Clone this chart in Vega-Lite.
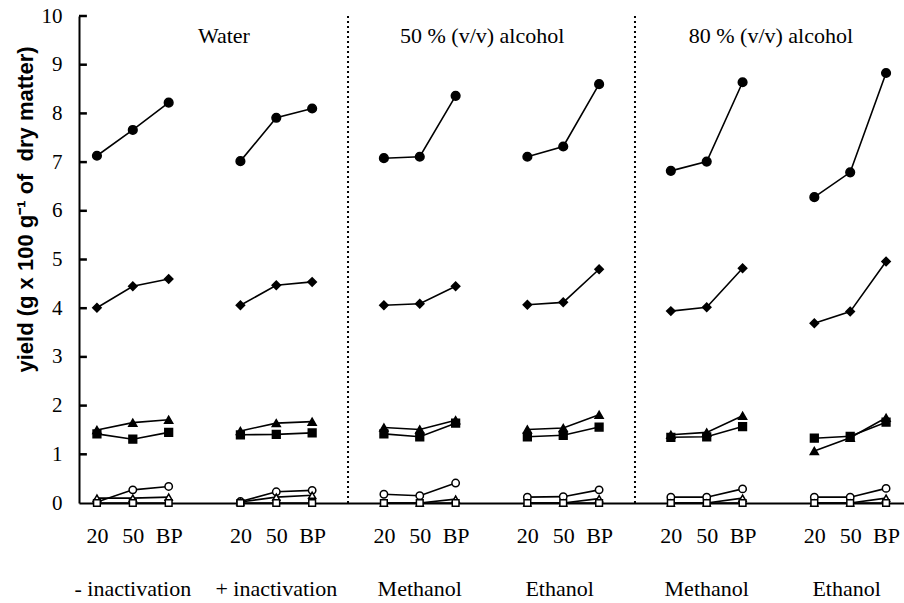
{
  "$schema": "https://vega.github.io/schema/vega-lite/v6.json",
  "width": 825,
  "height": 487,
  "autosize": {"type": "none"},
  "padding": {"left": 79, "top": 16, "right": 0, "bottom": 100},
  "background": "white",
  "config": {"view": {"stroke": null}},
  "datasets": {
    "yields": [
      {"s":"FC","g":1,"x":0,"v":7.13},{"s":"FC","g":1,"x":1,"v":7.66},{"s":"FC","g":1,"x":2,"v":8.22},
      {"s":"FC","g":2,"x":4,"v":7.02},{"s":"FC","g":2,"x":5,"v":7.91},{"s":"FC","g":2,"x":6,"v":8.1},
      {"s":"FC","g":3,"x":8,"v":7.08},{"s":"FC","g":3,"x":9,"v":7.11},{"s":"FC","g":3,"x":10,"v":8.36},
      {"s":"FC","g":4,"x":12,"v":7.11},{"s":"FC","g":4,"x":13,"v":7.32},{"s":"FC","g":4,"x":14,"v":8.6},
      {"s":"FC","g":5,"x":16,"v":6.82},{"s":"FC","g":5,"x":17,"v":7.01},{"s":"FC","g":5,"x":18,"v":8.64},
      {"s":"FC","g":6,"x":20,"v":6.28},{"s":"FC","g":6,"x":21,"v":6.79},{"s":"FC","g":6,"x":22,"v":8.83},

      {"s":"FD","g":1,"x":0,"v":4.01},{"s":"FD","g":1,"x":1,"v":4.45},{"s":"FD","g":1,"x":2,"v":4.6},
      {"s":"FD","g":2,"x":4,"v":4.06},{"s":"FD","g":2,"x":5,"v":4.47},{"s":"FD","g":2,"x":6,"v":4.54},
      {"s":"FD","g":3,"x":8,"v":4.06},{"s":"FD","g":3,"x":9,"v":4.09},{"s":"FD","g":3,"x":10,"v":4.45},
      {"s":"FD","g":4,"x":12,"v":4.07},{"s":"FD","g":4,"x":13,"v":4.12},{"s":"FD","g":4,"x":14,"v":4.8},
      {"s":"FD","g":5,"x":16,"v":3.94},{"s":"FD","g":5,"x":17,"v":4.02},{"s":"FD","g":5,"x":18,"v":4.82},
      {"s":"FD","g":6,"x":20,"v":3.69},{"s":"FD","g":6,"x":21,"v":3.93},{"s":"FD","g":6,"x":22,"v":4.96},

      {"s":"FT","g":1,"x":0,"v":1.5},{"s":"FT","g":1,"x":1,"v":1.65},{"s":"FT","g":1,"x":2,"v":1.71},
      {"s":"FT","g":2,"x":4,"v":1.48},{"s":"FT","g":2,"x":5,"v":1.64},{"s":"FT","g":2,"x":6,"v":1.67},
      {"s":"FT","g":3,"x":8,"v":1.55},{"s":"FT","g":3,"x":9,"v":1.51},{"s":"FT","g":3,"x":10,"v":1.7},
      {"s":"FT","g":4,"x":12,"v":1.51},{"s":"FT","g":4,"x":13,"v":1.54},{"s":"FT","g":4,"x":14,"v":1.81},
      {"s":"FT","g":5,"x":16,"v":1.4},{"s":"FT","g":5,"x":17,"v":1.45},{"s":"FT","g":5,"x":18,"v":1.79},
      {"s":"FT","g":6,"x":20,"v":1.07},{"s":"FT","g":6,"x":21,"v":1.34},{"s":"FT","g":6,"x":22,"v":1.75},

      {"s":"FS","g":1,"x":0,"v":1.42},{"s":"FS","g":1,"x":1,"v":1.31},{"s":"FS","g":1,"x":2,"v":1.45},
      {"s":"FS","g":2,"x":4,"v":1.4},{"s":"FS","g":2,"x":5,"v":1.41},{"s":"FS","g":2,"x":6,"v":1.44},
      {"s":"FS","g":3,"x":8,"v":1.42},{"s":"FS","g":3,"x":9,"v":1.36},{"s":"FS","g":3,"x":10,"v":1.64},
      {"s":"FS","g":4,"x":12,"v":1.36},{"s":"FS","g":4,"x":13,"v":1.39},{"s":"FS","g":4,"x":14,"v":1.56},
      {"s":"FS","g":5,"x":16,"v":1.35},{"s":"FS","g":5,"x":17,"v":1.36},{"s":"FS","g":5,"x":18,"v":1.57},
      {"s":"FS","g":6,"x":20,"v":1.33},{"s":"FS","g":6,"x":21,"v":1.37},{"s":"FS","g":6,"x":22,"v":1.66},

      {"s":"OC","g":1,"x":0,"v":0.02},{"s":"OC","g":1,"x":1,"v":0.27},{"s":"OC","g":1,"x":2,"v":0.34},
      {"s":"OC","g":2,"x":4,"v":0.03},{"s":"OC","g":2,"x":5,"v":0.23},{"s":"OC","g":2,"x":6,"v":0.26},
      {"s":"OC","g":3,"x":8,"v":0.18},{"s":"OC","g":3,"x":9,"v":0.15},{"s":"OC","g":3,"x":10,"v":0.41},
      {"s":"OC","g":4,"x":12,"v":0.12},{"s":"OC","g":4,"x":13,"v":0.13},{"s":"OC","g":4,"x":14,"v":0.27},
      {"s":"OC","g":5,"x":16,"v":0.12},{"s":"OC","g":5,"x":17,"v":0.12},{"s":"OC","g":5,"x":18,"v":0.29},
      {"s":"OC","g":6,"x":20,"v":0.12},{"s":"OC","g":6,"x":21,"v":0.12},{"s":"OC","g":6,"x":22,"v":0.3},

      {"s":"OT","g":1,"x":0,"v":0.1},{"s":"OT","g":1,"x":1,"v":0.1},{"s":"OT","g":1,"x":2,"v":0.12},
      {"s":"OT","g":2,"x":4,"v":0.02},{"s":"OT","g":2,"x":5,"v":0.12},{"s":"OT","g":2,"x":6,"v":0.16},
      {"s":"OT","g":3,"x":8,"v":0.0},{"s":"OT","g":3,"x":9,"v":0.0},{"s":"OT","g":3,"x":10,"v":0.08},
      {"s":"OT","g":4,"x":12,"v":0.0},{"s":"OT","g":4,"x":13,"v":0.0},{"s":"OT","g":4,"x":14,"v":0.09},
      {"s":"OT","g":5,"x":16,"v":0.0},{"s":"OT","g":5,"x":17,"v":0.0},{"s":"OT","g":5,"x":18,"v":0.1},
      {"s":"OT","g":6,"x":20,"v":0.0},{"s":"OT","g":6,"x":21,"v":0.0},{"s":"OT","g":6,"x":22,"v":0.1},

      {"s":"OS","g":1,"x":0,"v":0.0},{"s":"OS","g":1,"x":1,"v":0.0},{"s":"OS","g":1,"x":2,"v":0.0},
      {"s":"OS","g":2,"x":4,"v":0.0},{"s":"OS","g":2,"x":5,"v":0.0},{"s":"OS","g":2,"x":6,"v":0.0},
      {"s":"OS","g":3,"x":8,"v":0.0},{"s":"OS","g":3,"x":9,"v":0.0},{"s":"OS","g":3,"x":10,"v":0.0},
      {"s":"OS","g":4,"x":12,"v":0.0},{"s":"OS","g":4,"x":13,"v":0.0},{"s":"OS","g":4,"x":14,"v":0.0},
      {"s":"OS","g":5,"x":16,"v":0.0},{"s":"OS","g":5,"x":17,"v":0.0},{"s":"OS","g":5,"x":18,"v":0.0},
      {"s":"OS","g":6,"x":20,"v":0.0},{"s":"OS","g":6,"x":21,"v":0.0},{"s":"OS","g":6,"x":22,"v":0.0}
    ],
    "dividers": [{"x": 7}, {"x": 15}],
    "yticks": [{"v": 1}, {"v": 2}, {"v": 3}, {"v": 4}, {"v": 5}, {"v": 6}, {"v": 7}, {"v": 8}, {"v": 9}, {"v": 10}],
    "bottomlabels": [
      {"x": 1, "label": "- inactivation"},
      {"x": 5, "label": "+ inactivation"},
      {"x": 9, "label": "Methanol"},
      {"x": 12.9, "label": "Ethanol"},
      {"x": 17, "label": "Methanol"},
      {"x": 20.9, "label": "Ethanol"}
    ],
    "toplabels": [
      {"x": 3.54, "label": "Water"},
      {"x": 10.74, "label": "50 % (v/v) alcohol"},
      {"x": 18.79, "label": "80 % (v/v) alcohol"}
    ]
  },
  "layer": [
    {
      "data": {"name": "yields"},
      "mark": {"type": "line", "stroke": "black", "strokeWidth": 1.6},
      "encoding": {
        "x": {
          "field": "x",
          "type": "quantitative",
          "scale": {"domain": [-0.5, 22.5], "nice": false, "zero": false},
          "axis": {
            "title": null,
            "grid": false,
            "ticks": false,
            "values": [0, 1, 2, 4, 5, 6, 8, 9, 10, 12, 13, 14, 16, 17, 18, 20, 21, 22],
            "labelExpr": "datum.value % 4 == 0 ? '20' : (datum.value % 4 == 1 ? '50' : 'BP')",
            "labelFont": "Liberation Serif",
            "labelFontSize": 22,
            "labelColor": "black",
            "labelPadding": 22,
            "labelFlush": false,
            "labelOverlap": false,
            "domainColor": "black",
            "domainWidth": 2
          }
        },
        "y": {
          "field": "v",
          "type": "quantitative",
          "scale": {"domain": [0, 10], "nice": false},
          "axis": {
            "title": "yield (g x 100 g⁻¹ of\u00a0 dry matter)",
            "titleFont": "Liberation Sans",
            "titleFontWeight": "bold",
            "titleFontSize": 22,
            "titleColor": "black",
            "titleAngle": -90,
            "titleAlign": "center",
            "titleBaseline": "middle",
            "titleX": -54,
            "titleY": 193,
            "grid": false,
            "values": [0, 1, 2, 3, 4, 5, 6, 7, 8, 9, 10],
            "ticks": false,
            "labelFont": "Liberation Serif",
            "labelFontSize": 21,
            "labelColor": "black",
            "labelPadding": 17,
            "domainColor": "black",
            "domainWidth": 2
          }
        },
        "detail": [{"field": "s"}, {"field": "g"}]
      }
    },
    {
      "data": {"name": "yields"},
      "mark": {"type": "point", "stroke": "black", "strokeWidth": 1.5, "opacity": 1},
      "encoding": {
        "x": {"field": "x", "type": "quantitative"},
        "y": {"field": "v", "type": "quantitative"},
        "shape": {"field": "s", "type": "nominal", "legend": null,
          "scale": {"domain": ["FC","FD","FT","FS","OC","OT","OS"], "range": ["circle","diamond","triangle-up","square","circle","triangle-up","square"]}},
        "fill": {"field": "s", "type": "nominal", "legend": null,
          "scale": {"domain": ["FC","FD","FT","FS","OC","OT","OS"], "range": ["black","black","black","black","white","white","white"]}},
        "size": {"field": "s", "type": "ordinal", "legend": null,
          "scale": {"domain": ["FC","FD","FT","FS","OC","OT","OS"], "range": [75, 45, 65, 50, 45, 45, 40]}}
      }
    },
    {
      "data": {"name": "yticks"},
      "mark": {"type": "rule", "stroke": "black", "strokeWidth": 2.5, "strokeCap": "butt"},
      "encoding": {
        "x": {"datum": -0.5, "type": "quantitative"},
        "x2": {"datum": -0.28},
        "y": {"field": "v", "type": "quantitative"}
      }
    },
    {
      "data": {"name": "dividers"},
      "mark": {"type": "rule", "stroke": "black", "strokeWidth": 2, "strokeDash": [2, 3]},
      "encoding": {
        "x": {"field": "x", "type": "quantitative"},
        "y": {"datum": 0, "type": "quantitative"},
        "y2": {"datum": 10}
      }
    },
    {
      "data": {"name": "bottomlabels"},
      "mark": {"type": "text", "font": "Liberation Serif", "fontSize": 22, "fill": "black", "align": "center", "baseline": "alphabetic"},
      "encoding": {
        "x": {"field": "x", "type": "quantitative"},
        "y": {"datum": -1.91, "type": "quantitative"},
        "text": {"field": "label", "type": "nominal"}
      }
    },
    {
      "data": {"name": "toplabels"},
      "mark": {"type": "text", "font": "Liberation Serif", "fontSize": 22, "fill": "black", "align": "center", "baseline": "alphabetic"},
      "encoding": {
        "x": {"field": "x", "type": "quantitative"},
        "y": {"datum": 9.45, "type": "quantitative"},
        "text": {"field": "label", "type": "nominal"}
      }
    }
  ]
}
